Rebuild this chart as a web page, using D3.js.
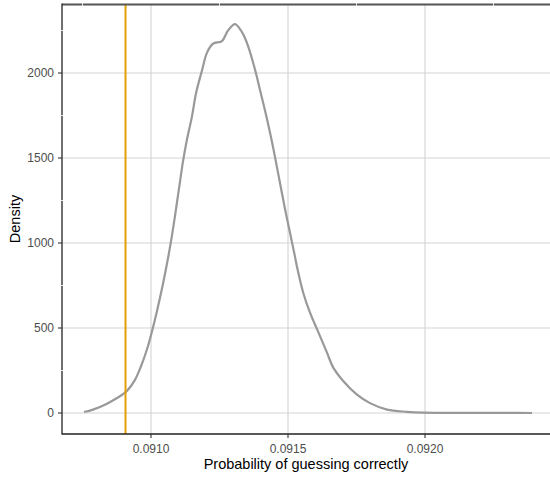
<!DOCTYPE html>
<html><head><meta charset="utf-8">
<script src="https://cdn.jsdelivr.net/npm/d3@7"></script>
<style>body{margin:0;background:#fff}svg{display:block}</style>
</head><body>
<svg id="c" width="550" height="479"></svg>
<script>
const probability = [0.0907555,0.0907883,0.0908394,0.0908759,0.0909124,0.0909416,0.0909635,0.0909854,0.0910036,0.0910219,0.0910438,0.0910620,0.0910766,0.0910876,0.0910985,0.0911058,0.0911168,0.0911314,0.0911496,0.0911642,0.0911861,0.0912044,0.0912263,0.0912591,0.0912810,0.0913066,0.0913321,0.0913540,0.0913796,0.0913978,0.0914161,0.0914343,0.0914526,0.0914708,0.0914891,0.0915073,0.0915255,0.0915328,0.0915547,0.0915803,0.0916095,0.0916423,0.0916642,0.0917007,0.0917518,0.0917993,0.0918613,0.0919343,0.0919927,0.0921000,0.0922007,0.0923000,0.0923905];
const density = [6,20,55,88,130,195,275,375,480,600,760,910,1045,1160,1280,1360,1480,1610,1745,1880,2015,2120,2172,2188,2250,2288,2240,2160,2020,1900,1780,1650,1506,1353,1200,1060,920,860,712,590,480,355,270,190,108,58,20,7,2,1,0.5,0.3,0];
const observed = [0.090907];
const xTicks = [0.0910,0.0915,0.0920];
const xTickLabels = ["0.0910","0.0915","0.0920"];
const xMinor = [0.09075,0.09125,0.09175,0.09225];
const yTicks = [0,500,1000,1500,2000];
const yMinor = [250,750,1250,1750,2250];

const L=62,R=550,T=4,B=434;
const x = d3.scaleLinear().domain([0.0910,0.0920]).range([151,425]);
const y = d3.scaleLinear().domain([0,2000]).range([413,73]);
const svg = d3.select("#c");
const font = "'Liberation Sans', Arial, sans-serif";

// major gridlines
const g = svg.append("g");
g.selectAll(".gx").data(xTicks).join("line")
 .attr("x1",d=>x(d)).attr("x2",d=>x(d)).attr("y1",T).attr("y2",B)
 .attr("stroke","#d4d4d4").attr("stroke-width",1.1);
g.selectAll(".gy").data(yTicks).join("line")
 .attr("x1",L).attr("x2",R).attr("y1",d=>y(d)).attr("y2",d=>y(d))
 .attr("stroke","#d4d4d4").attr("stroke-width",1.1);

// density curve
const pts = probability.map((p,i)=>[p,density[i]]);
svg.append("path").datum(pts)
 .attr("d", d3.line().curve(d3.curveCatmullRom.alpha(0.5)).x(d=>x(d[0])).y(d=>y(d[1])))
 .attr("fill","none").attr("stroke","#999999").attr("stroke-width",2.2)
 .attr("stroke-linejoin","round");

// observed vertical line
svg.selectAll(".obs").data(observed).join("line")
 .attr("x1",d=>x(d)).attr("x2",d=>x(d)).attr("y1",T).attr("y2",B)
 .attr("stroke","#E69F00").attr("stroke-width",2);

// axes lines
svg.append("line").attr("x1",L).attr("x2",R).attr("y1",T+0.5).attr("y2",T+0.5)
 .attr("stroke","#555").attr("stroke-width",2);
svg.append("line").attr("x1",L).attr("x2",L).attr("y1",T-0.5).attr("y2",B+0.5)
 .attr("stroke","#222").attr("stroke-width",1.3);
svg.append("line").attr("x1",L).attr("x2",R).attr("y1",B).attr("y2",B)
 .attr("stroke","#222").attr("stroke-width",1.3);

// minor gridlines (white, creating gaps)
svg.selectAll(".mx").data(xMinor).join("line")
 .attr("x1",d=>x(d)).attr("x2",d=>x(d)).attr("y1",T-1).attr("y2",T+2)
 .attr("stroke","#fff").attr("stroke-width",0.8);
svg.selectAll(".my").data(yMinor).join("line")
 .attr("x1",L-1).attr("x2",L+1).attr("y1",d=>y(d)).attr("y2",d=>y(d))
 .attr("stroke","#fff").attr("stroke-width",0.8);

// ticks
svg.selectAll(".tx").data(xTicks).join("line")
 .attr("x1",d=>x(d)).attr("x2",d=>x(d)).attr("y1",B).attr("y2",B+4)
 .attr("stroke","#333").attr("stroke-width",1.1);
svg.selectAll(".ty").data(yTicks).join("line")
 .attr("x1",L-4).attr("x2",L).attr("y1",d=>y(d)).attr("y2",d=>y(d))
 .attr("stroke","#333").attr("stroke-width",1.1);

// tick labels
svg.selectAll(".lx").data(xTicks).join("text")
 .attr("x",d=>x(d)).attr("y",453).attr("text-anchor","middle")
 .attr("font-family",font).attr("font-size",12).attr("fill","#4d4d4d")
 .text((d,i)=>xTickLabels[i]);
svg.selectAll(".ly").data(yTicks).join("text")
 .attr("x",54).attr("y",d=>y(d)+4.3).attr("text-anchor","end")
 .attr("font-family",font).attr("font-size",12).attr("fill","#4d4d4d")
 .text(d=>d);

// axis titles
svg.append("text").attr("x",(L+R)/2).attr("y",469).attr("text-anchor","middle")
 .attr("font-family",font).attr("font-size",14.5).attr("fill","#000")
 .text("Probability of guessing correctly");
svg.append("text").attr("transform",`translate(20,${(T+B)/2}) rotate(-90)`)
 .attr("text-anchor","middle")
 .attr("font-family",font).attr("font-size",14.5).attr("fill","#000")
 .text("Density");
</script>
</body></html>
